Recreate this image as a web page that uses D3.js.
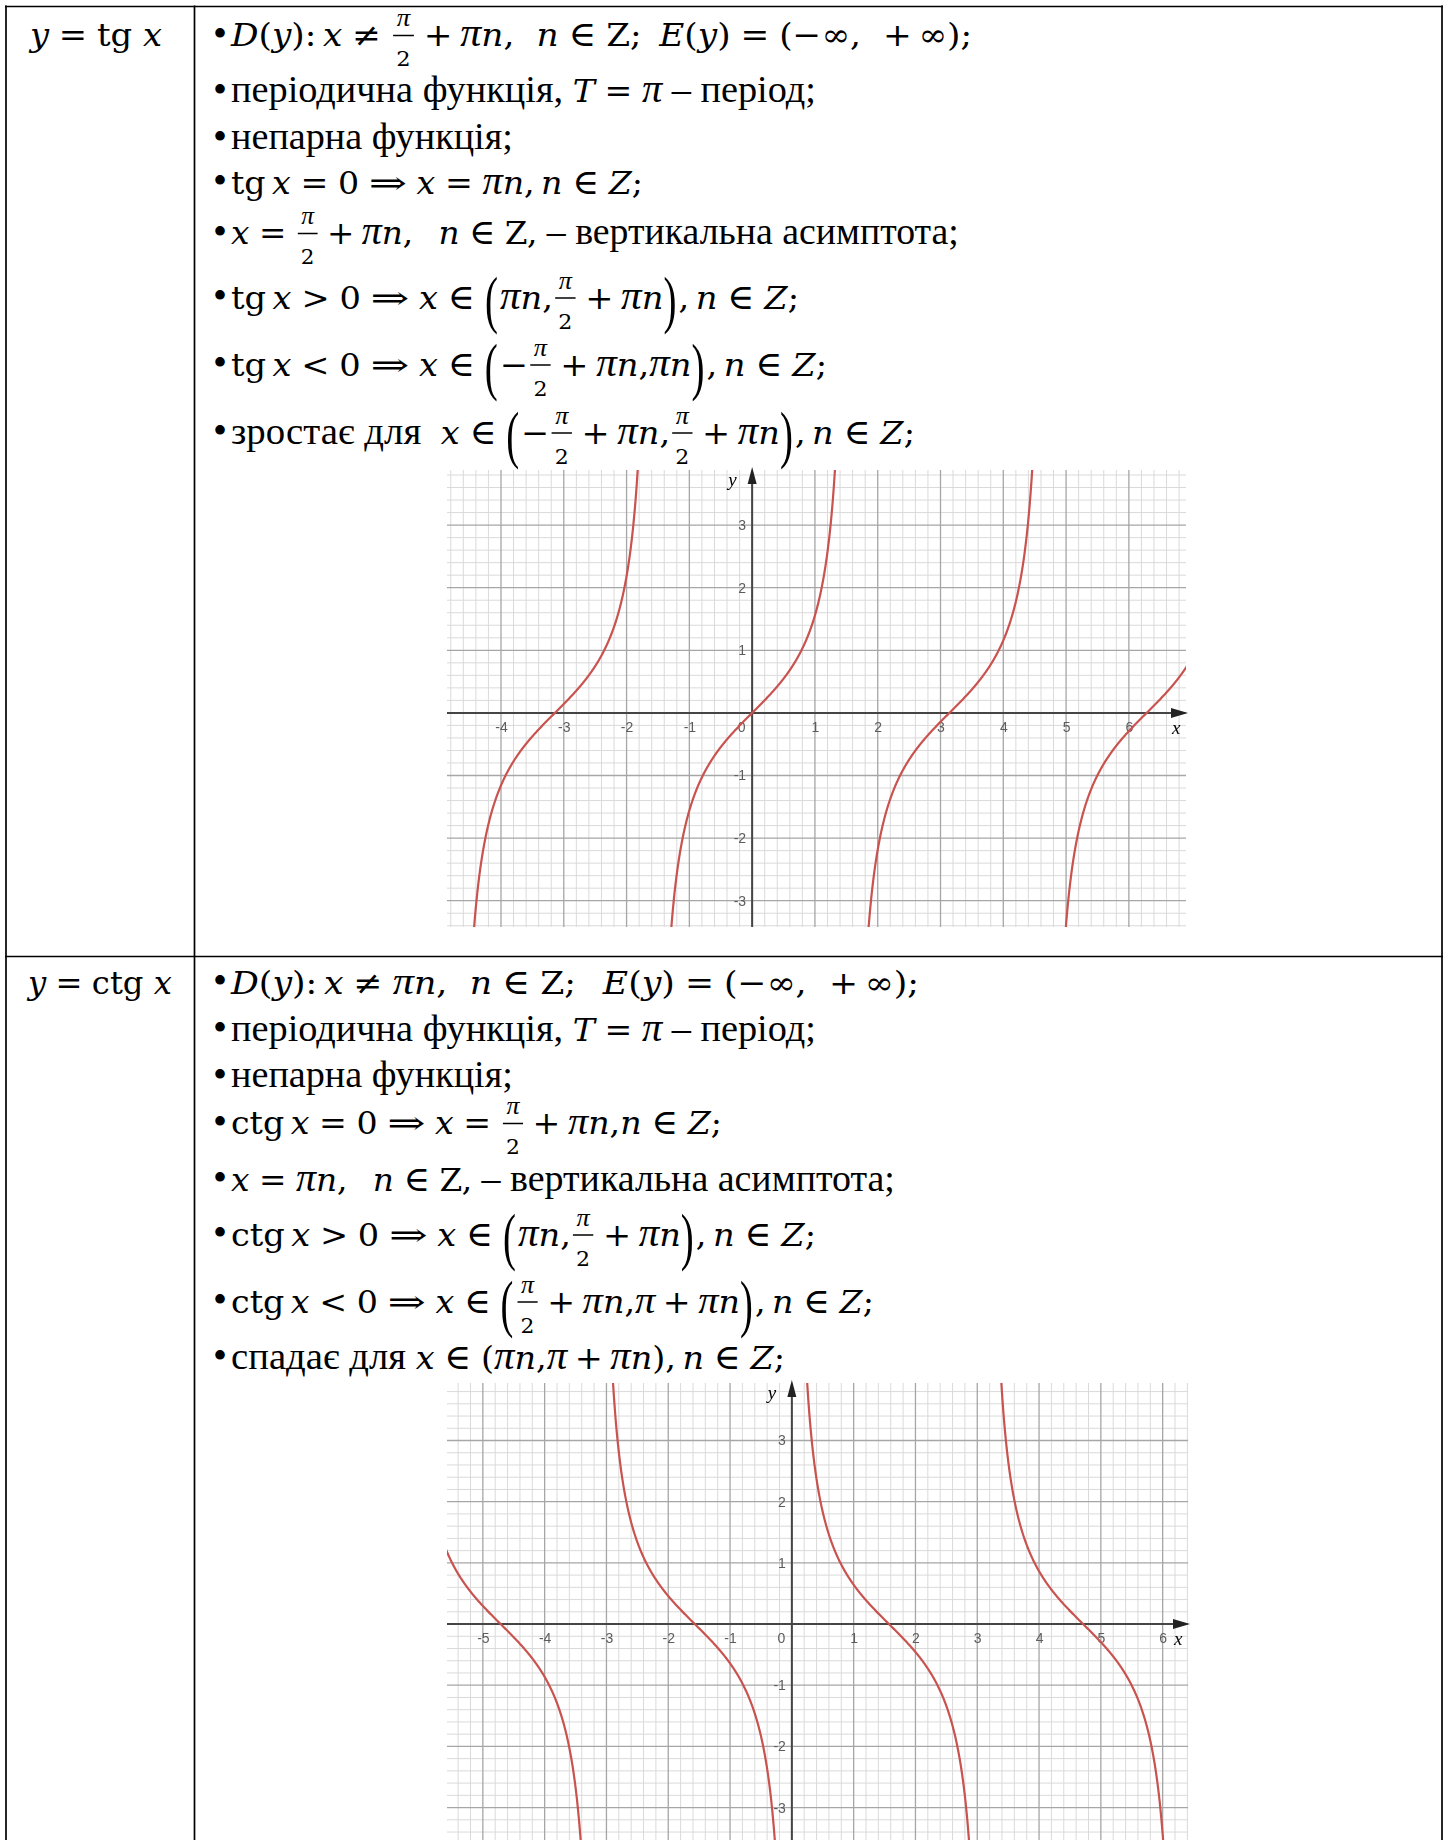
<!DOCTYPE html>
<html lang="uk">
<head>
<meta charset="utf-8">
<title>y = tg x, y = ctg x</title>
<script src="https://cdnjs.cloudflare.com/ajax/libs/d3/7.8.5/d3.min.js"></script>
<style>
  body { margin: 0; background: #fff; }
  svg text { font-family: "Liberation Serif", "Times New Roman", serif; fill: #000; }
  svg text.m { font-family: "DejaVu Serif", serif; }
  svg tspan.pi { font-family: "Liberation Serif", "Times New Roman", serif; }
  .tick text { font-family: "Liberation Sans", Arial, sans-serif; font-size: 14px; fill: #5c5c5c; }
</style>
</head>
<body>
<script>
// ------------  DATA  ------------
// line markup, tokens split by "|":
// t text, r math roman, i math italic, o relation, b binary op, s space (1/18 em), f fraction, p tall paren
const rowTitles = ["iy|o=|rtg|s5|ix", "iy|o=|rctg|s5|ix"];

const tgLines = [
  "iD|r(|iy|r):|s3|ix|o≠|fπ/2|b+|iπn|r,|s10|in|o∈|rZ;|s8|iE|r(|iy|r)|o=|r(−∞,|s10|r+|s3|r∞);",
  "tперіодична функція,|s4.5|iT|o=|iπ|s4.5|t–|s4.5|tперіод;",
  "tнепарна функція;",
  "rtg|s3|ix|o=|r0|o⇒|ix|o=|iπn|r,|s3|in|o∈|iZ|r;",
  "ix|o=|fπ/2|b+|iπn|r,|s12|in|o∈|rZ,|s4.5|t–|s4.5|tвертикальна асимптота;",
  "rtg|s3|ix|o>|r0|o⇒|ix|o∈|p(|iπn|r,|fπ/2|b+|iπn|p)|r,|s3|in|o∈|iZ|r;",
  "rtg|s3|ix|o<|r0|o⇒|ix|o∈|p(|r−|fπ/2|b+|iπn|r,|iπn|p)|r,|s3|in|o∈|iZ|r;",
  "tзростає для|s9|ix|o∈|p(|r−|fπ/2|b+|iπn|r,|fπ/2|b+|iπn|p)|r,|s3|in|o∈|iZ|r;"
];

const ctgLines = [
  "iD|r(|iy|r):|s3|ix|o≠|iπn|r,|s10|in|o∈|rZ;|s12|iE|r(|iy|r)|o=|r(−∞,|s10|r+|s3|r∞);",
  "tперіодична функція,|s4.5|iT|o=|iπ|s4.5|t–|s4.5|tперіод;",
  "tнепарна функція;",
  "rctg|s3|ix|o=|r0|o⇒|ix|o=|fπ/2|b+|iπn|r,|in|o∈|iZ|r;",
  "ix|o=|iπn|r,|s12|in|o∈|rZ,|s4.5|t–|s4.5|tвертикальна асимптота;",
  "rctg|s3|ix|o>|r0|o⇒|ix|o∈|p(|iπn|r,|fπ/2|b+|iπn|p)|r,|s3|in|o∈|iZ|r;",
  "rctg|s3|ix|o<|r0|o⇒|ix|o∈|p(|fπ/2|b+|iπn|r,|iπ|b+|iπn|p)|r,|s3|in|o∈|iZ|r;",
  "tспадає для|s4.5|ix|o∈|r(|iπn|r,|iπ|b+|iπn|r)|r,|s3|in|o∈|iZ|r;"
];

// plotted window (x in radians) and tick labels
const tgXDomain = [-4.86, 6.91];
const tgYDomain = [-3.42, 3.88];
const tgXTicks = [-4, -3, -2, -1, 0, 1, 2, 3, 4, 5, 6];
const tgYTicks = [-3, -2, -1, 1, 2, 3];
const tgBranches = [-2, -1, 0, 1, 2];   // branch k on (kπ − π/2, kπ + π/2)

const ctgXDomain = [-5.58, 6.41];
const ctgYDomain = [-3.53, 3.94];
const ctgXTicks = [-5, -4, -3, -2, -1, 0, 1, 2, 3, 4, 5, 6];
const ctgYTicks = [-3, -2, -1, 1, 2, 3];
const ctgBranches = [-2, -1, 0, 1, 2];  // branch k on (kπ, kπ + π)

// ------------  PARAMETERS  ------------
const W = 1447, H = 1840;
const FS = 37;            // text font size
const FM = 32;            // math font size
const FR = 21;            // fraction font size
const colX = [6, 194.5, 1442];
const textX = 231, bulletX = 213;

const rows = [
  { top: 6.5, title: rowTitles[0], lines: tgLines, titleSpan: [30, 162],
    bases: [46.5, 102.5, 149.5, 194, 244.5, 309, 376, 444],
    ends: [972, 816, 513, 643, 959, 799, 827, 915],
    graph: { id: "tg", xDomain: tgXDomain, yDomain: tgYDomain, xTicks: tgXTicks, yTicks: tgYTicks,
      branches: tgBranches, start: k => k * Math.PI - Math.PI / 2, f: t => Math.tan(t),
      left: 447, right: 1186, top: 470, bottom: 927 } },
  { top: 956.5, title: rowTitles[1], lines: ctgLines, titleSpan: [28, 172],
    bases: [994, 1041, 1087.5, 1134.5, 1191, 1246, 1313, 1369],
    ends: [919, 816, 513, 722, 895, 816, 874, 785],
    graph: { id: "ctg", xDomain: ctgXDomain, yDomain: ctgYDomain, xTicks: ctgXTicks, yTicks: ctgYTicks,
      branches: ctgBranches, start: k => k * Math.PI, f: t => 1 / Math.tan(t),
      left: 447, right: 1188, top: 1383, bottom: 1840 } }
];

const svg = d3.select("body").append("svg").attr("width", W).attr("height", H);
const defs = svg.append("defs");
defs.append("filter").attr("id", "soft")
  .append("feGaussianBlur").attr("stdDeviation", 0.45);

// ------------  TEXT LAYOUT  ------------
function putText(t, s, italic, piSize) {
  if (italic && s.includes("π")) {
    s.split(/(π)/).filter(Boolean).forEach(part => {
      const sp = t.append("tspan").text(part);
      if (part === "π") sp.attr("class", "pi").attr("font-size", piSize);
    });
  } else t.text(s);
  if (italic) t.attr("font-style", "italic");
  return t;
}

function fraction(g, x, base, parts) {
  const n = putText(g.append("text").attr("class", "m").attr("font-size", FR).attr("y", base - 20),
    parts[0], true, 25);
  const d = g.append("text").attr("class", "m").attr("font-size", FR).attr("y", base + 20).text(parts[1]);
  const wn = n.node().getComputedTextLength(), wd = d.node().getComputedTextLength();
  const w = Math.max(wn, wd) + 6;
  n.attr("x", x + 2 + (w - wn) / 2);
  d.attr("x", x + 2 + (w - wd) / 2);
  g.append("line").attr("x1", x + 2).attr("x2", x + 2 + w)
    .attr("y1", base - 11).attr("y2", base - 11)
    .attr("stroke", "#000").attr("stroke-width", 1.5);
  return w + 4;
}

function bigParen(g, x, base, ch) {
  // "(" ink is about 0.69em above and 0.18em below the baseline
  const top = base - 32, bot = base + 23;
  const sy = (bot - top) / (0.87 * FS);
  const t = g.append("text").attr("font-size", FS).text(ch)
    .attr("transform", `translate(${x},${top + 0.69 * FS * sy}) scale(1,${sy})`);
  return t.node().getComputedTextLength() + 2;
}

function setLine(g, spec, base) {
  let x = 0;
  spec.split("|").forEach(tok => {
    const k = tok[0], s = tok.slice(1);
    if (k === "s") { x += (+s) / 18 * FS; return; }
    if (k === "f") { x += fraction(g, x, base, s.split("/")); return; }
    if (k === "p") { x += bigParen(g, x, base, s); return; }
    const pad = k === "o" ? 4.5 / 18 * FS : k === "b" ? 3.5 / 18 * FS : 0;
    x += pad;
    const t = g.append("text").attr("x", x).attr("y", base);
    if (k === "t") t.attr("font-size", FS).text(s);
    else putText(t.attr("class", "m").attr("font-size", s === "∈" ? 35 : FM), s, k === "i", 39);
    let w = t.node().getComputedTextLength();
    if (s === "⇒") { w = 1.15 * FM; t.attr("textLength", w).attr("lengthAdjust", "spacingAndGlyphs"); }
    x += w + pad;
  });
  return x;
}

const text = svg.append("g");

rows.forEach(row => {
  const tg = text.append("g");
  const w = setLine(tg, row.title, row.bases[0]);
  const span = row.titleSpan;
  tg.attr("transform", `translate(${span[0]},0) scale(${(span[1] - span[0]) / w},1)`);

  row.lines.forEach((spec, i) => {
    text.append("text").attr("x", bulletX).attr("y", row.bases[i]).attr("font-size", 40).text("•");
    const lg = text.append("g");
    const lw = setLine(lg, spec, row.bases[i]);
    lg.attr("transform", `translate(${textX},0) scale(${(row.ends[i] - textX) / lw},1)`);
  });
});

// ------------  TABLE  ------------
const grid = svg.append("g").attr("stroke", "#000").attr("stroke-width", 1.7);
colX.forEach(cx => grid.append("line").attr("x1", cx).attr("x2", cx).attr("y1", 5.5).attr("y2", H));
rows.forEach(row => grid.append("line").attr("x1", colX[0] - 1).attr("x2", colX[2] + 1)
  .attr("y1", row.top).attr("y2", row.top));

// ------------  GRAPHS  ------------
function drawGraph(cfg) {
  const x = d3.scaleLinear().domain(cfg.xDomain).range([cfg.left, cfg.right]);
  const y = d3.scaleLinear().domain(cfg.yDomain).range([cfg.bottom, cfg.top]);
  const g = svg.append("g").attr("filter", "url(#soft)");

  defs.append("clipPath").attr("id", "clip-" + cfg.id).append("rect")
    .attr("x", cfg.left).attr("y", cfg.top)
    .attr("width", cfg.right - cfg.left).attr("height", cfg.bottom - cfg.top);

  // grid: minor every 0.2, major every 1
  const fifths = dom => d3.range(Math.ceil(dom[0] * 5), Math.floor(dom[1] * 5) + 1);
  const vx = fifths(cfg.xDomain), hy = fifths(cfg.yDomain);
  [false, true].forEach(major => {
    const col = major ? "#a6a6a6" : "#dadada";
    g.append("g").selectAll("line").data(vx.filter(i => (i % 5 === 0) === major)).join("line")
      .attr("x1", i => x(i / 5)).attr("x2", i => x(i / 5))
      .attr("y1", cfg.top).attr("y2", cfg.bottom)
      .attr("stroke", col).attr("stroke-width", major ? 1.3 : 1);
    g.append("g").selectAll("line").data(hy.filter(i => (i % 5 === 0) === major)).join("line")
      .attr("y1", i => y(i / 5)).attr("y2", i => y(i / 5))
      .attr("x1", cfg.left).attr("x2", cfg.right)
      .attr("stroke", col).attr("stroke-width", major ? 1.3 : 1);
  });

  // axes
  const x0 = x(0), y0 = y(0);
  g.append("line").attr("x1", cfg.left).attr("x2", cfg.right - 4).attr("y1", y0).attr("y2", y0)
    .attr("stroke", "#454545").attr("stroke-width", 2);
  g.append("line").attr("x1", x0).attr("x2", x0).attr("y1", cfg.bottom).attr("y2", cfg.top + 4)
    .attr("stroke", "#454545").attr("stroke-width", 2);
  g.append("path").attr("fill", "#222")
    .attr("d", `M${cfg.right + 2},${y0}L${cfg.right - 15},${y0 - 5}L${cfg.right - 15},${y0 + 5}Z`);
  g.append("path").attr("fill", "#222")
    .attr("d", `M${x0},${cfg.top - 3}L${x0 - 4.5},${cfg.top + 14}L${x0 + 4.5},${cfg.top + 14}Z`);

  const xAxis = d3.axisBottom(x).tickValues(cfg.xTicks).tickSize(0).tickPadding(9).tickFormat(d => String(d));
  const gx = g.append("g").attr("transform", `translate(0,${y0})`).call(xAxis);
  gx.select(".domain").remove();
  gx.selectAll(".tick").filter(d => d === 0).select("text").attr("dx", -11);

  const yAxis = d3.axisLeft(y).tickValues(cfg.yTicks).tickSize(0).tickPadding(6).tickFormat(d => String(d));
  const gy = g.append("g").attr("transform", `translate(${x0},0)`).call(yAxis);
  gy.select(".domain").remove();

  g.append("text").attr("x", cfg.right - 14).attr("y", y0 + 21).attr("font-size", 19)
    .attr("font-style", "italic").attr("fill", "#555").text("x");
  g.append("text").attr("x", x0 - 24).attr("y", cfg.top + 16).attr("font-size", 19)
    .attr("font-style", "italic").attr("fill", "#555").text("y");

  // curve branches
  const line = d3.line().x(d => x(d[0])).y(d => y(d[1]));
  const curves = g.append("g").attr("clip-path", `url(#clip-${cfg.id})`);
  cfg.branches.forEach(k => {
    const a = cfg.start(k);
    const pts = d3.range(1, 800).map(i => {
      const t = a + Math.PI * i / 800;
      return [t, Math.max(-40, Math.min(40, cfg.f(t)))];
    });
    curves.append("path").attr("d", line(pts))
      .attr("fill", "none").attr("stroke", "#c8524f").attr("stroke-width", 2.2);
  });
}

rows.forEach(row => drawGraph(row.graph));
</script>
</body>
</html>
